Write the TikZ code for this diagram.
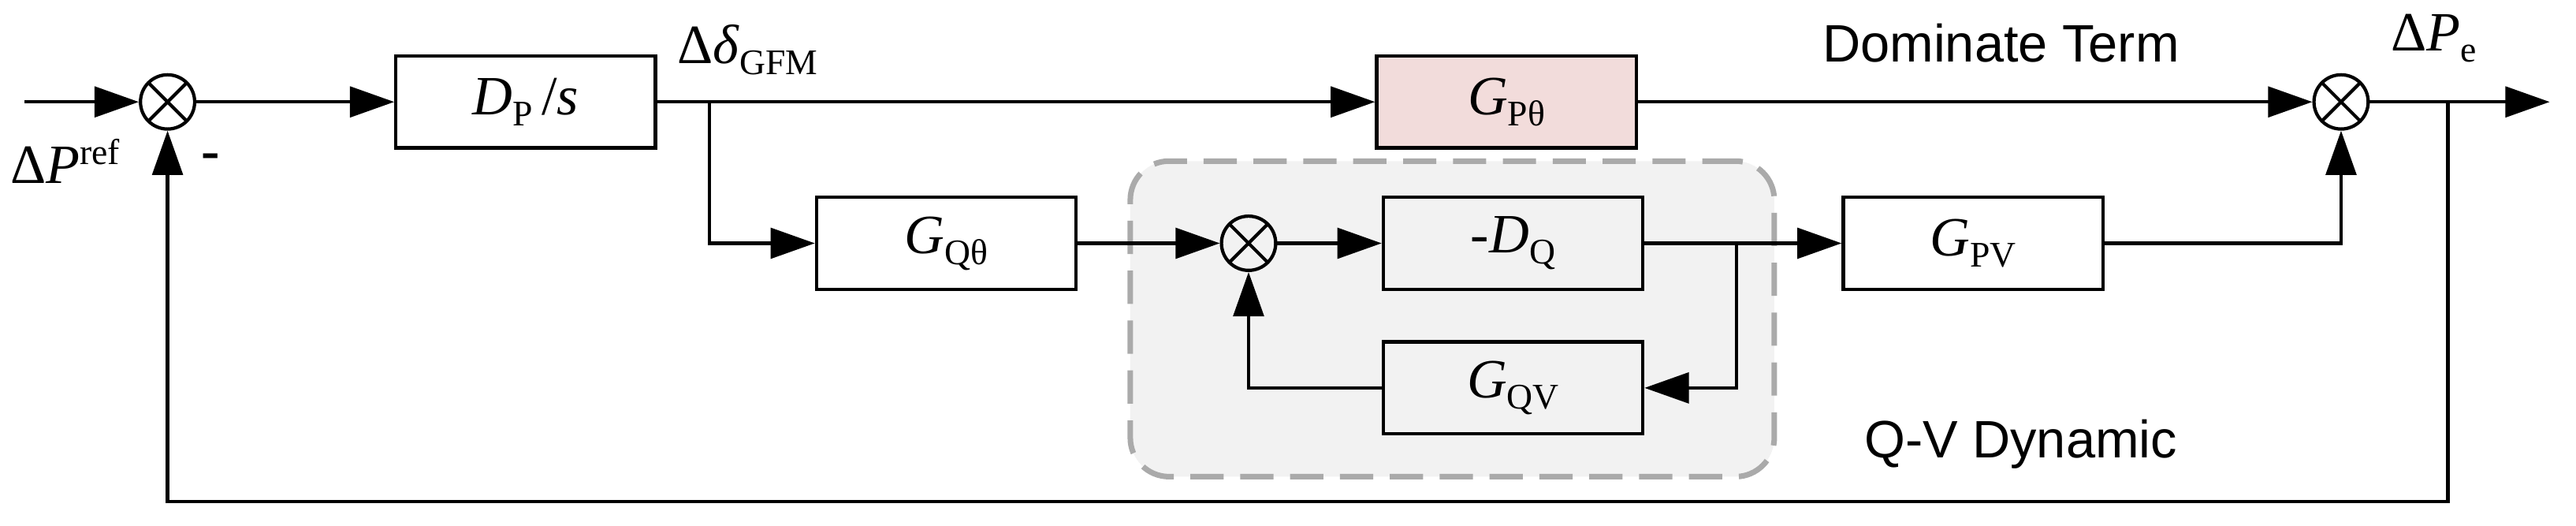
\documentclass[tikz,border=0pt]{standalone}
\usepackage{fontspec}
\setmainfont{Liberation Serif}
\newfontfamily\sansf{Liberation Sans}
\usetikzlibrary{arrows.meta}
\definecolor{pinkf}{RGB}{242,220,219}
\definecolor{greyf}{RGB}{242,242,242}
\definecolor{greyd}{RGB}{170,170,170}
\newcommand{\mysb}[1]{\raisebox{-4pt}{\fontsize{13}{13}\selectfont #1}}
\newcommand{\mysp}[1]{\raisebox{7pt}{\fontsize{13}{13}\selectfont #1}}
\begin{document}
\begin{tikzpicture}[x=0.02084cm,y=-0.02084cm,
  font=\fontsize{20}{23}\selectfont,
  sumn/.style={draw,circle,line width=1.2pt,minimum size=33*0.02084cm,inner sep=0pt,path picture={
    \draw[line width=1.2pt] (path picture bounding box.north west)--(path picture bounding box.south east)
    (path picture bounding box.north east)--(path picture bounding box.south west);}},
  ar/.style={line width=1.2pt,-{Triangle[length=16pt,width=11pt]}},
  bx/.style={draw,line width=1.2pt,minimum width=158*0.02084cm,minimum height=56*0.02084cm,inner sep=0pt}]
\useasboundingbox (0,0) rectangle (1568,320);
\node[draw=greyd,dashed,dash pattern=on 12pt off 6pt,line width=2pt,fill=greyf,rounded corners=14pt,minimum width=392*0.02084cm,minimum height=192*0.02084cm] (reg) at (884,194) {};
\node[sumn] (s1) at (102,62) {};
\node[bx] (dp) at (320,62) {\textit{D}\mysb{P}\,/\textit{s}};
\node[bx,fill=pinkf] (gpt) at (917,62) {\textit{G}\mysb{Pθ}};
\node[sumn] (s2) at (1425,62) {};
\node[bx] (gqt) at (576,148) {\textit{G}\mysb{Qθ}};
\node[sumn] (s3) at (760,148) {};
\node[bx] (dq) at (921,148) {-\textit{D}\mysb{Q}};
\node[bx] (gqv) at (921,236) {\textit{G}\mysb{QV}};
\node[bx] (gpv) at (1201,148) {\textit{G}\mysb{PV}};
\coordinate (in) at (15,62);
\coordinate (out) at (1552,62);
\coordinate (b1) at (432,62);
\coordinate (b2) at (1057,148);
\coordinate (b3) at (1490,62);
\draw[ar] (in) -- (s1);
\draw[ar] (s1) -- (dp);
\draw[ar] (dp) -- (gpt);
\draw[ar] (gpt) -- (s2);
\draw[ar] (s2) -- (out);
\draw[ar] (b1) |- (gqt);
\draw[ar] (gqt) -- (s3);
\draw[ar] (s3) -- (dq);
\draw[ar] (dq) -- (gpv);
\draw[ar] (b2) |- (gqv);
\draw[ar] (gqv) -| (s3);
\draw[ar] (gpv) -| (s2);
\draw[ar] (b3) -- (1490,305) -| (s1);
\node[anchor=south west,inner sep=0pt] (lref) at (6,112) {Δ\textit{P}\mysp{ref}};
\node (lm) at (128,98) {\textbf{-}};
\node[anchor=south west,inner sep=0pt] (ld) at (412,46) {Δ\textit{δ}\mysb{GFM}};
\node[anchor=south west,inner sep=0pt] (lpe) at (1455,38) {Δ\textit{P}\mysb{e}};
\node[font=\sansf\fontsize{19}{22}\selectfont] (ldt) at (1218,26) {Dominate Term};
\node[font=\sansf\fontsize{19}{22}\selectfont] (lqv) at (1230,270) {Q-V Dynamic};
\end{tikzpicture}
\end{document}
